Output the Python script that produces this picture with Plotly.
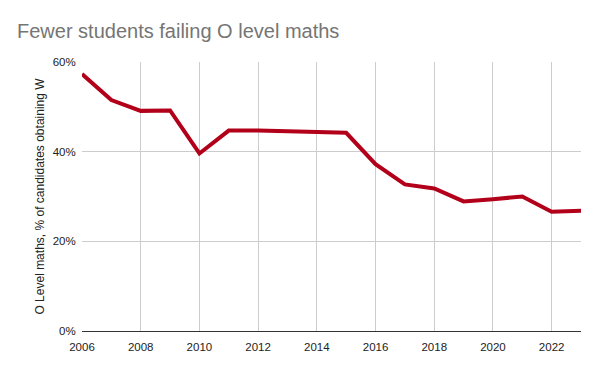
import plotly.graph_objects as go

years = list(range(2006, 2024))
pct_w = [57.3, 51.5, 49.1, 49.2, 39.6, 44.7, 44.7, 44.6, 44.4, 44.2,
         37.2, 32.7, 31.8, 28.9, 29.4, 30.0, 26.6, 26.8]
x_ticks = list(range(2006, 2024, 2))
y_ticks = [0, 20, 40, 60]

# page body has an 8px default margin; compensate so the plot lands where the reference has it
OFF = 8
W, H = 600, 371

fig = go.Figure()
fig.add_trace(go.Scatter(
    x=years, y=pct_w, mode="lines",
    line=dict(color="#B2001B", width=4),
    hoverinfo="x+y",
))

fig.update_layout(
    width=W, height=H,
    margin=dict(l=82 - OFF, r=19 + OFF, t=62 - OFF, b=40 + OFF),
    paper_bgcolor="white", plot_bgcolor="white",
    font=dict(family="Arial, Liberation Sans, sans-serif", size=12, color="#222222"),
    title=dict(text="Fewer students failing O level maths",
               x=(17 - OFF) / W, xanchor="left", y=1 - (31 - OFF) / H, yanchor="middle",
               font=dict(size=20, color="#757575")),
    showlegend=False,
    xaxis=dict(range=[2006, 2023], tickvals=x_ticks, ticktext=[str(v) for v in x_ticks],
               showgrid=True, gridcolor="#CCCCCC", gridwidth=1,
               zeroline=False, showline=True, linecolor="#333333", linewidth=1,
               ticks="outside", ticklen=5, tickcolor="rgba(0,0,0,0)",
               tickfont=dict(size=11.5)),
    yaxis=dict(range=[0, 60], tickvals=y_ticks, ticktext=[f"{v}%" for v in y_ticks],
               showgrid=True, gridcolor="#CCCCCC", gridwidth=1,
               zeroline=False, showline=False,
               ticks="outside", ticklen=3, tickcolor="rgba(0,0,0,0)",
               tickfont=dict(size=11.5),
               title=dict(text="O Level maths, % of candidates obtaining W",
                          standoff=5, font=dict(size=12, color="#222222"))),
)

fig.write_html("out.html")
